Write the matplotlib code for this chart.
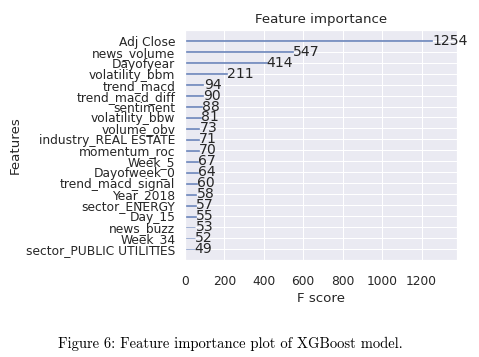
import matplotlib
matplotlib.use("Agg")
import matplotlib.pyplot as plt
import seaborn as sns

# feature importance (F score), bottom to top
features = ["sector_PUBLIC UTILITIES", "Week_34", "news_buzz", "Day_15",
            "sector_ENERGY", "Year_2018", "trend_macd_signal", "Dayofweek_0",
            "Week_5", "momentum_roc", "industry_REAL ESTATE", "volume_obv",
            "volatility_bbw", "sentiment", "trend_macd_diff", "trend_macd",
            "volatility_bbm", "Dayofyear", "news_volume", "Adj Close"]
scores = [49, 52, 53, 55, 57, 58, 60, 64, 67, 70, 71, 73, 81, 88, 90, 94,
          211, 414, 547, 1254]
xticks = [0, 200, 400, 600, 800, 1000, 1200]

sns.set_theme(style="darkgrid")
plt.rcParams['font.family'] = ['DejaVu Sans']

fig = plt.figure(figsize=(479 / 72, 357 / 72), dpi=72)
ax = fig.add_axes([0.386, 0.272, 0.568, 0.644])

ylocs = range(len(features))
# thin bars like xgboost's plot_importance, thin edge keeps them even
ax.barh(ylocs, scores, height=0.04, align="center", color="#6580b8",
        edgecolor="#6580b8", linewidth=0.6)
for x, y in zip(scores, ylocs):
    ax.text(x + 1, y, x, va="center", fontsize=14, color="#262626")

ax.set_yticks(list(ylocs))
ax.set_yticklabels(features, fontsize=12.3)
ax.set_xticks(xticks)
ax.tick_params(axis="x", labelsize=12.3, pad=9)
ax.set_xlim(0, max(scores) * 1.1)
ax.set_title("Feature importance", fontsize=13.4, pad=7)
ax.set_xlabel("F score", fontsize=13.4)
ax.set_ylabel("Features", fontsize=13.4)

# caption under the plot
fig.text(0.121, 0.026, "Figure 6: Feature importance plot of XGBoost model.",
         family="cmr10", fontsize=14.6, color="black")

fig.savefig("out.png", dpi=72, facecolor="white")
